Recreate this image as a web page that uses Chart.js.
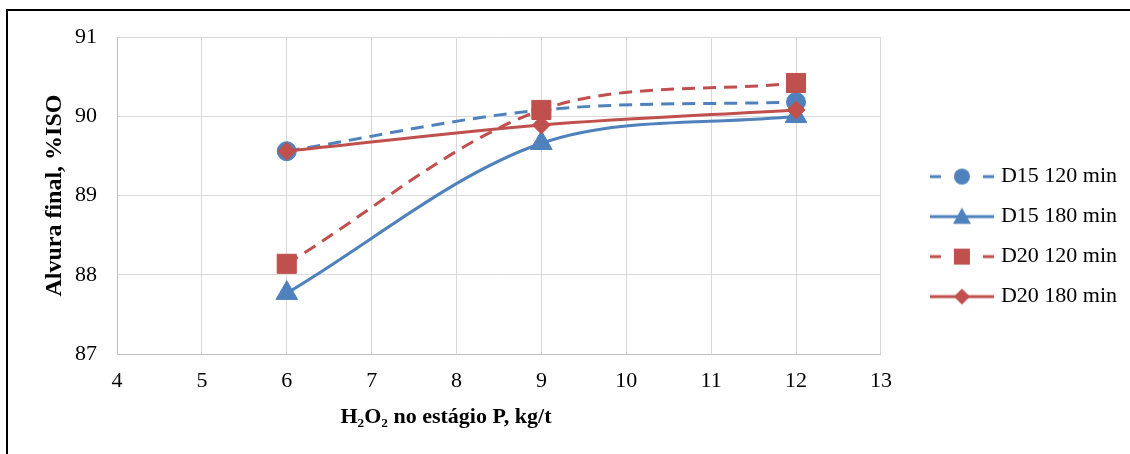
<!DOCTYPE html>
<html>
<head>
<meta charset="utf-8">
<script src="https://cdn.jsdelivr.net/npm/chart.js@4"></script>
<style>
  html, body { margin: 0; padding: 0; background: #fff; overflow: hidden; }
  #wrap { position: relative; width: 1130px; height: 454px; }
  #frame { position: absolute; left: 6px; top: 9px; width: 1200px; height: 500px; border: 2px solid #000; box-sizing: border-box; }
  canvas { position: absolute; left: 0; top: 0; }
</style>
</head>
<body>
<div id="wrap">
  <div id="frame"></div>
  <canvas id="chart" width="1130" height="454"></canvas>
</div>
<script>
const doses = [6, 9, 12];
const d15_120 = [89.56, 90.08, 90.18];
const d15_180 = [87.77, 89.66, 90.00];
const d20_120 = [88.14, 90.08, 90.42];
const d20_180 = [89.56, 89.89, 90.08];
const seriesNames = ['D15 120 min', 'D15 180 min', 'D20 120 min', 'D20 180 min'];
const xTitle = 'H₂O₂ no estágio P, kg/t';
const yTitle = 'Alvura final, %ISO';

const BLUE = '#4f81bd';
const RED = '#c0504d';
const FONT = "'Liberation Serif', 'Times New Roman', serif";
const LINE_W = 3;
const DASH = [13, 8];

// legend sample: transparent lead-in, then the line with the marker in the middle
function legendIcon(color, dashed, style, r) {
    const c = document.createElement('canvas');
    c.width = 99; c.height = 28;
    const ctx = c.getContext('2d');
    const y = 14, x0 = 35, x1 = 99, xm = 67;
    ctx.strokeStyle = color;
    ctx.lineWidth = LINE_W;
    if (dashed) {
        ctx.beginPath(); ctx.moveTo(x0, y); ctx.lineTo(x0 + 11, y); ctx.stroke();
        ctx.beginPath(); ctx.moveTo(x1 - 11, y); ctx.lineTo(x1, y); ctx.stroke();
    } else {
        ctx.beginPath(); ctx.moveTo(x0, y); ctx.lineTo(x1, y); ctx.stroke();
    }
    ctx.fillStyle = color;
    ctx.beginPath();
    if (style === 'circle') {
        ctx.arc(xm, y, r, 0, Math.PI * 2);
    } else if (style === 'triangle') {
        ctx.moveTo(xm, y - r); ctx.lineTo(xm + r, y + r * 0.8); ctx.lineTo(xm - r, y + r * 0.8);
    } else if (style === 'rect') {
        ctx.rect(xm - r, y - r, 2 * r, 2 * r);
    } else {
        ctx.moveTo(xm, y - r); ctx.lineTo(xm + r, y); ctx.lineTo(xm, y + r); ctx.lineTo(xm - r, y);
    }
    ctx.closePath();
    ctx.fill();
    return c;
}

const icons = [
    legendIcon(BLUE, true, 'circle', 8),
    legendIcon(BLUE, false, 'triangle', 9),
    legendIcon(RED, true, 'rect', 8),
    legendIcon(RED, false, 'diamond', 8)
];

// x axis title sits left of the plot centre, so it is drawn by hand
const xTitlePlugin = {
    id: 'xTitle',
    afterDraw(chart) {
        const ctx = chart.ctx;
        ctx.save();
        ctx.font = 'bold 22px ' + FONT;
        ctx.fillStyle = '#000';
        ctx.textAlign = 'center';
        ctx.textBaseline = 'middle';
        ctx.fillText(xTitle, 446, 417.6);
        ctx.restore();
    }
};

function series(i, values, color, dash, style, radius) {
    return {
        label: seriesNames[i],
        data: doses.map((x, k) => ({ x: x, y: values[k] })),
        borderColor: color,
        backgroundColor: color,
        borderWidth: LINE_W,
        borderDash: dash,
        tension: 0.33,
        pointStyle: style,
        pointRadius: radius,
        pointHoverRadius: radius,
        pointBorderWidth: 1,
        pointBackgroundColor: color,
        pointBorderColor: color,
        order: 4 - i
    };
}

new Chart(document.getElementById('chart'), {
    type: 'line',
    data: {
        datasets: [
            series(0, d15_120, BLUE, DASH, 'circle', 9.5),
            series(1, d15_180, BLUE, [], 'triangle', 12.5),
            series(2, d20_120, RED, DASH, 'rect', 13.5),
            series(3, d20_180, RED, [], 'rectRot', 9)
        ]
    },
    plugins: [xTitlePlugin],
    options: {
        responsive: false,
        animation: false,
        layout: { padding: { left: 10, right: 3, top: 37, bottom: 46.6 } },
        plugins: {
            tooltip: { enabled: false },
            legend: {
                position: 'right',
                // empty title only pushes the entries down a little
                title: { display: true, text: '', font: { size: 24 }, padding: 0 },
                labels: {
                    color: '#000',
                    font: { family: FONT, size: 22 },
                    usePointStyle: true,
                    pointStyleWidth: 91,
                    padding: 18,
                    sort: (a, b) => a.datasetIndex - b.datasetIndex,
                    generateLabels(chart) {
                        return chart.data.datasets.map((ds, i) => ({
                            text: ds.label,
                            pointStyle: icons[i],
                            fillStyle: ds.borderColor,
                            strokeStyle: ds.borderColor,
                            lineWidth: 0,
                            fontColor: '#000',
                            datasetIndex: i,
                            hidden: false
                        }));
                    }
                }
            }
        },
        scales: {
            x: {
                type: 'linear',
                min: 4, max: 13,
                ticks: { stepSize: 1, color: '#000', font: { family: FONT, size: 22 }, padding: 13.4 },
                grid: { color: '#d9d9d9', lineWidth: 1, drawTicks: false },
                border: { color: '#bfbfbf', width: 1 }
            },
            y: {
                min: 87, max: 91,
                ticks: { stepSize: 1, color: '#000', font: { family: FONT, size: 22 }, padding: 20 },
                grid: { color: '#d9d9d9', lineWidth: 1, drawTicks: false },
                border: { color: '#bfbfbf', width: 1 },
                title: {
                    display: true,
                    text: yTitle,
                    color: '#000',
                    font: { family: FONT, size: 24, weight: 'bold' },
                    padding: { top: 30.6, bottom: -14.4 }
                }
            }
        }
    }
});
</script>
</body>
</html>
